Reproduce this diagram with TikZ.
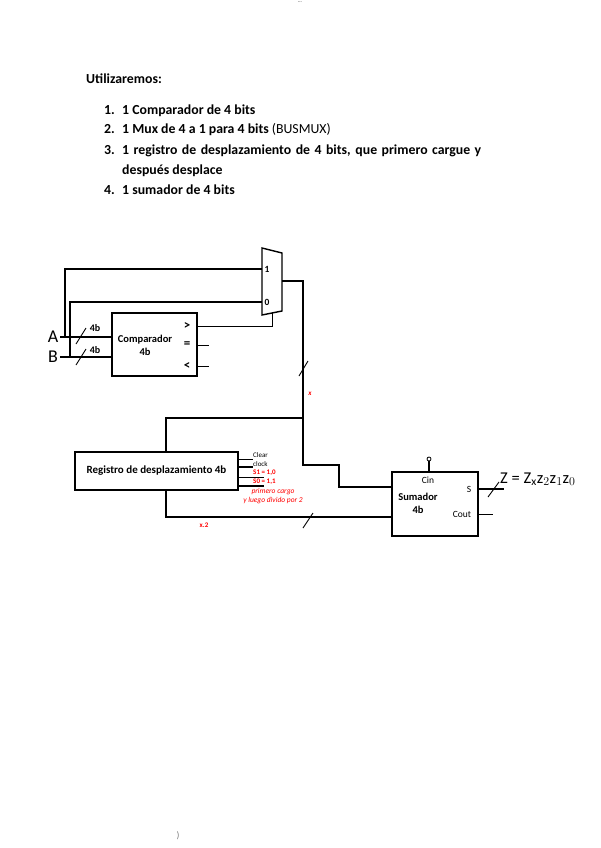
\documentclass[tikz,border=0pt]{standalone}
\usepackage{fontspec}
\setmainfont{Carlito}
\usepackage{xcolor}
\usetikzlibrary{positioning, calc}
\tikzset{
  bloque/.style={draw, line width=1.4pt, rectangle, inner sep=0pt, outer sep=0pt, align=center, font=\fontsize{11}{13}\selectfont\bfseries},
  bus/.style={line width=1.9pt, line join=miter},
  hilo/.style={line width=0.8pt},
  corte/.style={line width=0.9pt},
  texto/.style={anchor=base west, inner sep=0pt, font=\fontsize{13.8}{15}\selectfont\bfseries},
  etiq/.style={inner sep=0pt, font=\fontsize{9.5}{10}\selectfont},
  rojo/.style={inner sep=0pt, text=red, align=center, font=\fontsize{7}{7}\selectfont\bfseries}
}

\begin{document}
\begin{tikzpicture}[x=1pt, y=-1pt]
  \useasboundingbox (0,0) rectangle (600,848);
  % Lista
  \node[texto] (titulo) at (86,84) {Utilizaremos:};
  \node[texto] (n1) at (104,114) {1.};
  \node[texto] (n2) at (104,134) {2.};
  \node[texto] (n3) at (104,154) {3.};
  \node[texto] (n4) at (104,194) {4.};
  \node[texto] (l1) at (122,114) {1 Comparador de 4 bits};
  \node[texto] (l2) at (122,134) {1 Mux de 4 a 1 para 4 bits \textmd{(BUSMUX)}};
  \node[texto] (l3) at (122,154) {\makebox[359pt][s]{1 registro de desplazamiento de 4 bits, que primero cargue y}};
  \node[texto] (l3b) at (122,174) {después desplace};
  \node[texto] (l4) at (122,194) {1 sumador de 4 bits};
  % Marcas de pagina
  \node[etiq, font=\fontsize{5}{5}\selectfont] (marca) at (300,2) {...};
  \node[etiq, gray] (pie) at (178,836) {)};

  % Bloques
  \node[bloque, minimum width=85pt, minimum height=63pt] (comp) at (154.5,344.5) {};
  \node[bloque, minimum width=163pt, minimum height=38pt] (reg) at (156.5,471) {Registro de desplazamiento 4b};
  \node[bloque, minimum width=86pt, minimum height=64pt] (sum) at (435,504) {};
  \draw[line width=1.4pt] (262,248) -- (282,253) -- (282,311) -- (262,315) -- cycle;
  \node[etiq, font=\fontsize{10.5}{13}\selectfont\bfseries, align=center] (compT) at (145,345) {Comparador\\4b};
  \node[etiq, font=\fontsize{10.5}{13}\selectfont\bfseries, align=center] (sumT) at (418,503) {Sumador\\4b};
  \node[etiq, font=\fontsize{9.5}{10}\selectfont\bfseries] (mux1) at (267,269) {1};
  \node[etiq, font=\fontsize{9.5}{10}\selectfont\bfseries] (mux0) at (267,302) {0};
  \node[etiq, font=\fontsize{13}{13}\selectfont\bfseries] (mayor) at (187,326) {>};
  \node[etiq, font=\fontsize{13}{13}\selectfont\bfseries] (igual) at (187,345) {=};
  \node[etiq, font=\fontsize{13}{13}\selectfont\bfseries] (menor) at (187,366) {<};
  \node[etiq] (cin) at (428,480) {Cin};
  \node[etiq] (sal) at (469,489) {S};
  \node[etiq] (cout) at (462,514) {Cout};

  % Puntos de los buses
  \node[inner sep=0pt, font=\fontsize{18}{18}\selectfont] (A) at (53,337) {A};
  \node[inner sep=0pt, font=\fontsize{18}{18}\selectfont] (B) at (53,357) {B};
  \coordinate (m1) at (262,269);
  \coordinate (m0) at (262,302);
  \coordinate (ms) at (282,281);
  \coordinate (msel) at (272,313);
  \coordinate (cruce) at (303,418);
  \coordinate (bajada) at (303,465);
  \coordinate (codo) at (339,465);
  \coordinate (sumA) at (392,487);
  \coordinate (sumB) at (392,517);
  \coordinate (regE) at (166,452);
  \coordinate (regS) at (166,490);

  % Entradas
  \draw[bus] (60,337) -- (112,337);
  \draw[hilo, line width=1.2pt] (60,357) -- (112,357);
  \draw[bus, line width=1.5pt] (65,337) -- (65,269) -- (m1);
  \draw[bus, line width=1.5pt] (70,357) -- (70,302) -- (m0);
  \draw[corte] (76,344) -- (86,328);
  \draw[corte] (76,365) -- (86,349);
  \node[etiq, font=\fontsize{10}{10}\selectfont\bfseries] (n4a) at (95,328) {4b};
  \node[etiq, font=\fontsize{10}{10}\selectfont\bfseries] (n4b) at (95,350) {4b};

  % Salidas comparador
  \draw[hilo] (197,326) -- (272,326) -- (msel);
  \draw[hilo] (197,345) -- (209,345);
  \draw[hilo] (197,366) -- (209,366);

  % Bus x
  \draw[bus] (ms) -- (303,281) -- (bajada) -- (codo) -- (339,487) -- (sumA);
  \draw[bus] (cruce) -- (166,418) -- (regE);
  \draw[bus] (regS) -- (166,517) -- (sumB);
  \draw[corte] (299,376) -- (308,361);
  \draw[corte] (303,528) -- (313,513);
  \node[rojo] (x) at (310,394) {\itshape x};
  \node[rojo] (x2) at (204,525) {x.2};

  % Control del registro
  \draw[hilo] (238,459) -- (253,459);
  \draw[hilo, line width=1.2pt] (238,467) -- (253,467);
  \draw[hilo] (238,477) -- (264,477);
  \draw[hilo, line width=1.2pt] (238,486) -- (264,486);
  \node[etiq, anchor=west, font=\fontsize{7}{7}\selectfont] (clear) at (253,455) {Clear};
  \node[etiq, anchor=west, font=\fontsize{7}{7}\selectfont] (clock) at (253,464) {clock};
  \node[rojo, anchor=west] (s1) at (253,473) {S1 = 1,0};
  \node[rojo, anchor=west] (s0) at (253,482) {S0 = 1,1};
  \node[rojo, font=\fontsize{7.5}{9.5}\selectfont\itshape] (nota) at (273,496) {primero cargo\\y luego divido por 2};

  % Sumador
  \draw[hilo, line width=1.2pt] (429,472) -- (429,461);
  \draw[line width=0.8pt] (429,459) circle (2);
  \draw[bus, line width=1.5pt] (478,489) -- (504,489);
  \draw[corte] (488,497) -- (499,482);
  \draw[hilo] (478,514) -- (493,514);
  \node[inner sep=0pt, anchor=west, font=\fontsize{16.5}{16}\selectfont] (zeta) at (500,479) {Z = Z$_{\mathrm{x}}$z$_{2}$z$_{1}$z$_{0}$};
\end{tikzpicture}
\end{document}
